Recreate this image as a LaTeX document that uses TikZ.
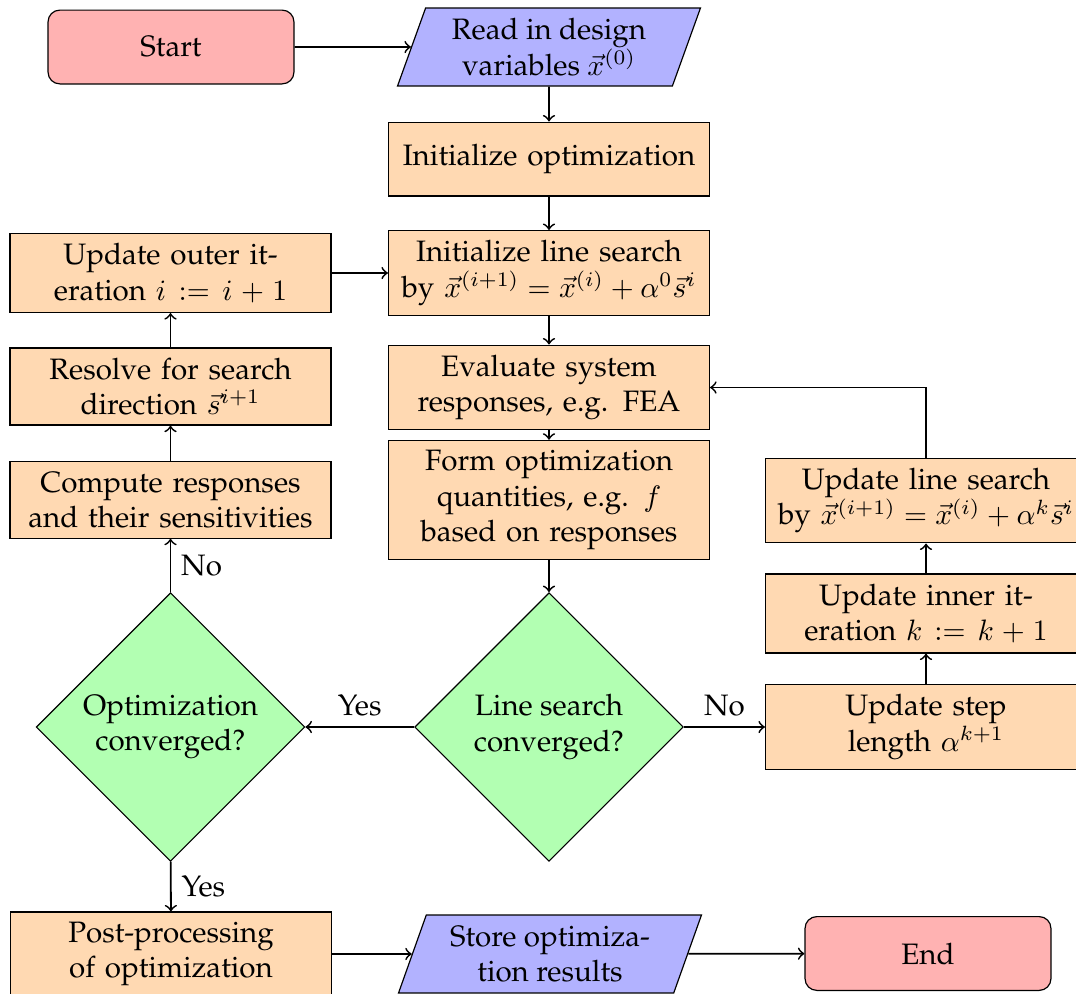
\documentclass[tikz,border=0pt]{standalone}
\usepackage[T1]{fontenc}
\renewcommand{\rmdefault}{ppl}
% take = and + from the roman text font, like the digits
\DeclareMathSymbol{=}{\mathrel}{operators}{"3D}
\DeclareMathSymbol{+}{\mathbin}{operators}{"2B}
\usetikzlibrary{shapes.geometric}

\begin{document}
\begin{tikzpicture}[x=0.3387pt,y=-0.3387pt,
  base/.style={draw=black, thin, align=center, minimum height=25pt},
  terminal/.style={base, rectangle, rounded corners=4pt, fill=red!30, minimum width=83.3pt},
  io/.style={base, trapezium, trapezium left angle=70, trapezium right angle=110,
    trapezium stretches body, fill=blue!30, minimum width=102.6pt, minimum height=26.4pt},
  process/.style={base, rectangle, fill=orange!30, text width=100.7pt, inner xsep=4pt},
  decision/.style={base, diamond, aspect=1, fill=green!30, minimum width=91pt,
    minimum height=91pt, inner sep=0pt},
  flow/.style={->, semithick}
]
\useasboundingbox (0,0) rectangle (1076,994);

% nodes
\node[terminal] (start)   at (171,47)      {Start};
\node[io]       (read)    at (549,47)      {Read in design\\variables $\vec{x}^{(0)}$};
\node[process]  (initopt) at (549,159)     {Initialize optimization};
\node[process]  (initls)  at (549,273)     {Initialize line search\\by $\vec{x}^{(i+1)} = \vec{x}^{(i)} + \alpha^0\vec{s}^i$};
\node[process]  (outer)   at (170.5,273)   {Update outer it-\\eration $i := i + 1$};
\node[process]  (eval)    at (549,387.5)   {Evaluate system\\responses, e.g. FEA};
\node[process]  (resolve) at (170.5,386.5) {Resolve for search\\direction $\vec{s}^{i+1}$};
\node[process]  (form)    at (549,500)     {Form optimization\\quantities, e.g. $f$\\based on responses};
\node[process]  (compute) at (170.5,500)   {Compute responses\\and their sensitivities};
\node[process]  (updls)   at (926,500.5)   {Update line search\\by $\vec{x}^{(i+1)} = \vec{x}^{(i)} + \alpha^k\vec{s}^i$};
\node[process]  (inner)   at (926,613.5)   {Update inner it-\\eration $k := k + 1$};
\node[decision] (lsconv)  at (549,727)     {Line search\\converged?};
\node[decision] (optconv) at (170.5,727)   {Optimization\\converged?};
\node[process]  (step)    at (926,727)     {Update step\\length $\alpha^{k+1}$};
\node[process]  (post)    at (171,954)     {Post-processing\\of optimization};
\node[io]       (store)   at (550,954)     {Store optimiza-\\tion results};
\node[terminal] (end)     at (928,953.5)   {End};

% connectors
\draw[flow] (start) -- (read);
\draw[flow] (read) -- (initopt);
\draw[flow] (initopt) -- (initls);
\draw[flow] (outer) -- (initls);
\draw[flow] (initls) -- (eval);
\draw[flow] (eval) -- (form);
\draw[flow] (form) -- (lsconv);
\draw[flow] (lsconv) -- node[above] {Yes} (optconv);
\draw[flow] (lsconv) -- node[above] {No} (step);
\draw[flow] (step) -- (inner);
\draw[flow] (inner) -- (updls);
\draw[flow] (updls.north) |- (eval.east);
\draw[flow] (optconv) -- node[right] {No} (compute);
\draw[flow] (compute) -- (resolve);
\draw[flow] (resolve) -- (outer);
\draw[flow] (optconv) -- node[right] {Yes} (post);
\draw[flow] (post) -- (store);
\draw[flow] (store) -- (end);
\end{tikzpicture}
\end{document}
